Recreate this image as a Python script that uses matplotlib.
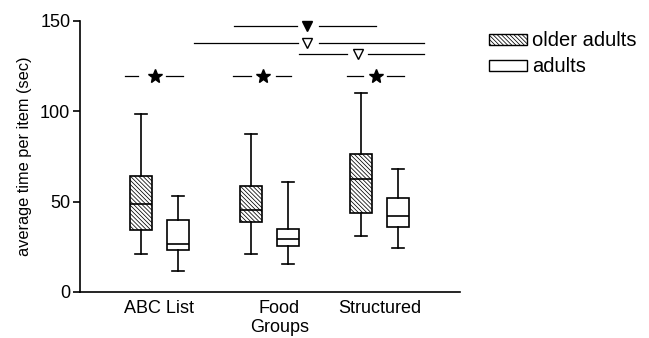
import matplotlib.pyplot as plt
from matplotlib.patches import Rectangle

plt.rcParams['font.family'] = ['Liberation Sans', 'DejaVu Sans']
plt.rcParams['hatch.color'] = '#b4b4b4'
plt.rcParams['hatch.linewidth'] = 0.55

categories = ["ABC List", "Food\nGroups", "Structured"]
groups = ["older adults", "adults"]

# five-number summaries: low whisker, Q1, median, Q3, high whisker
older_low = [20.9, 20.9, 31.0]
older_q1 = [34.3, 38.9, 43.9]
older_med = [48.7, 45.2, 62.5]
older_q3 = [64.4, 58.8, 76.4]
older_high = [98.7, 87.4, 110.1]

adult_low = [11.6, 15.5, 24.2]
adult_q1 = [23.4, 25.6, 36.0]
adult_med = [26.4, 29.5, 42.1]
adult_q3 = [39.7, 35.0, 52.2]
adult_high = [53.3, 60.9, 67.9]

yticks = [0, 50, 100, 150]

HATCH = '\\' * 8


def stats(lo, q1, med, q3, hi):
    return [dict(whislo=a, q1=b, med=c, q3=d, whishi=e, fliers=[])
            for a, b, c, d, e in zip(lo, q1, med, q3, hi)]


fig = plt.figure(figsize=(6.49, 3.38), dpi=100)
ax = fig.add_axes([80 / 649, 1 - 292 / 338, 380 / 649, 271 / 338])

off = 0.168
w = 0.2
centers = [1, 2, 3]
lw = 1.2
common = dict(widths=w, patch_artist=True, showfliers=False,
              whiskerprops=dict(color='black', linewidth=lw),
              capprops=dict(color='black', linewidth=lw),
              medianprops=dict(color='black', linewidth=lw),
              capwidths=w * 0.55)

ax.bxp(stats(older_low, older_q1, older_med, older_q3, older_high),
       positions=[c - off for c in centers],
       boxprops=dict(facecolor='white', edgecolor='black', linewidth=lw, hatch=HATCH),
       **common)
ax.bxp(stats(adult_low, adult_q1, adult_med, adult_q3, adult_high),
       positions=[c + off for c in centers],
       boxprops=dict(facecolor='white', edgecolor='black', linewidth=lw),
       **common)

ax.set_xlim(1 - 79.5 / 110, 3 + 80.5 / 110)
ax.set_ylim(0, 150)
ax.set_yticks(yticks)
ax.set_xticks([1, 2.09, 3])
ax.set_xticklabels(categories, fontsize=13, linespacing=1.1)
ax.tick_params(axis='x', length=0, pad=6)
ax.tick_params(axis='y', length=5, width=1.2, labelsize=13, pad=2)
ax.set_ylabel("average time per item (sec)", fontsize=11.8, labelpad=6)
for s in ['top', 'right']:
    ax.spines[s].set_visible(False)
for s in ['left', 'bottom']:
    ax.spines[s].set_linewidth(1.2)


def px(x):
    return (x - 159.5) / 110 + 1


def sig_line(y, x0, x1, xm, x2, x3, marker, filled):
    ax.plot([px(x0), px(x1)], [y, y], color='black', lw=0.9, clip_on=False)
    ax.plot([px(x2), px(x3)], [y, y], color='black', lw=0.9, clip_on=False)
    if marker == '*':
        ax.plot(px(xm), y, marker='*', ms=10, color='black', clip_on=False)
    else:
        ax.plot(px(xm), y, marker='v', ms=7, mec='black', mew=1.0,
                mfc='black' if filled else 'white', clip_on=False)


# group differences (stars)
sig_line(119.5, 125, 138, 155, 166, 183, '*', True)
sig_line(119.5, 233, 251, 263, 276, 291, '*', True)
sig_line(119.5, 347, 363, 376, 387, 404, '*', True)
# condition differences
sig_line(147.5, 234, 297, 307, 319, 376, 'v', True)
sig_line(138.0, 194, 298, 307, 319, 424, 'v', False)
sig_line(131.7, 299, 347, 358, 368, 424, 'v', False)

# legend
fig.patches.append(Rectangle((489 / 649, 1 - 45 / 338), 38 / 649, 11 / 338,
                             transform=fig.transFigure, facecolor='white',
                             edgecolor='black', lw=1.0, hatch=HATCH))
fig.patches.append(Rectangle((489 / 649, 1 - 71 / 338), 38 / 649, 11 / 338,
                             transform=fig.transFigure, facecolor='white',
                             edgecolor='black', lw=1.0))
fig.text(532 / 649, 1 - 40 / 338, groups[0], fontsize=14.5, va='center')
fig.text(532 / 649, 1 - 66 / 338, groups[1], fontsize=14.5, va='center')

fig.savefig("out.png", dpi=100)
